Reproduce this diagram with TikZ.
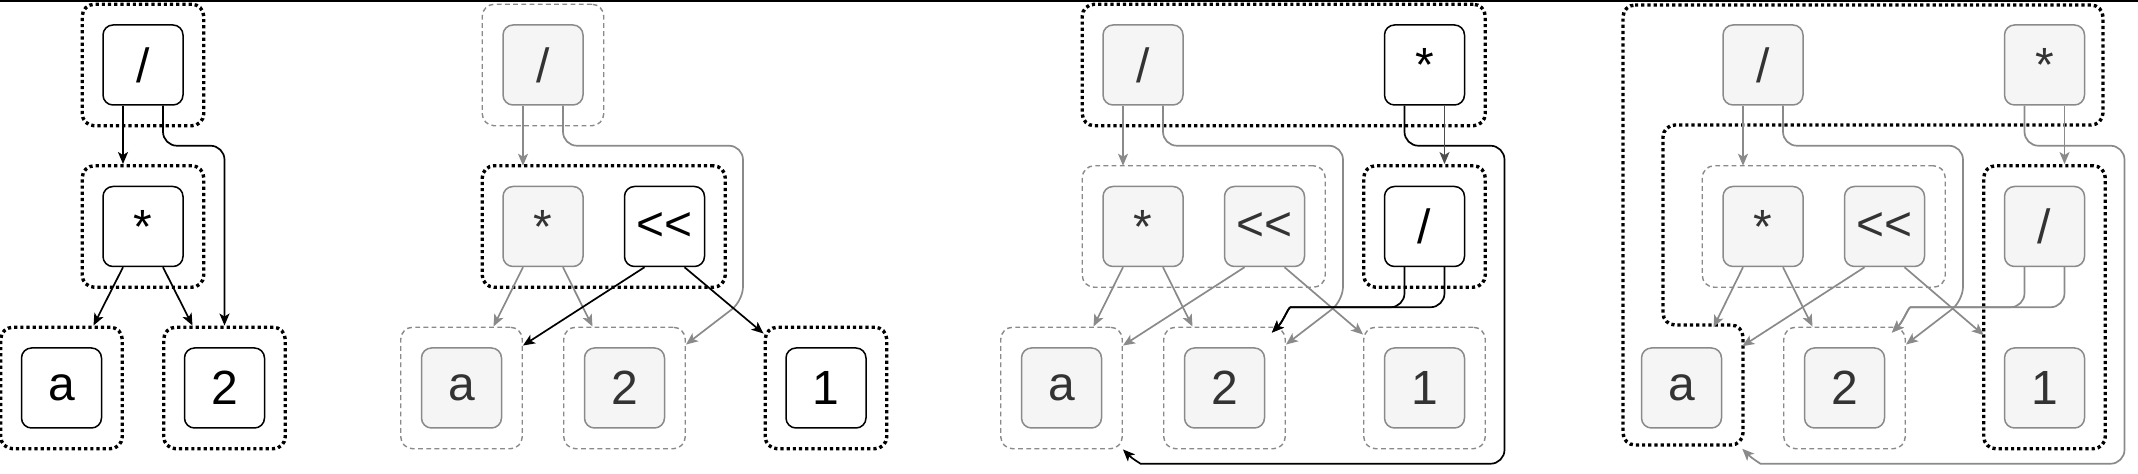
\documentclass[tikz,border=0pt]{standalone}
\usepackage{fontspec}
\setmainfont{Liberation Sans}
\usetikzlibrary{positioning,fit,calc,arrows.meta}
\definecolor{oldline}{HTML}{8A8A8A}
\definecolor{oldfill}{HTML}{F5F5F5}
\definecolor{oldtext}{HTML}{333333}
\definecolor{darkline}{HTML}{4D4D4D}
\newcommand{\shl}{<\kern0pt<}

\begin{document}
\begin{tikzpicture}[x=0.5pt, y=-0.5pt,
                    opbox/.style={draw, rounded corners=5pt, minimum width=40pt, minimum height=40pt, inner sep=0pt, line width=0.75pt, font=\fontsize{24}{29}\selectfont},
                    curbox/.style={opbox, fill=white, text=black},
                    oldbox/.style={opbox, draw=oldline, fill=oldfill, text=oldtext},
                    curgrp/.style={draw, line width=1.7pt, dash pattern=on 1.6pt off 1.5pt, rounded corners=6pt, inner sep=10pt},
                    oldgrp/.style={draw=oldline, line width=0.7pt, dash pattern=on 2.4pt off 1.7pt, rounded corners=6pt, inner sep=10pt},
                    curedge/.style={draw, line width=0.85pt, rounded corners=7pt, -{Stealth[length=6pt, width=5pt, inset=1.5pt]}},
                    oldedge/.style={curedge, draw=oldline},
                    darkedge/.style={curedge, draw=darkline},
                ]
                \useasboundingbox (0,0) rectangle (2138,474);
                \fill (0,0) rectangle (2138,2.5);

                %Nodes: step 1
                \node[curbox] (d1) at (143,65)                    {/};
                \node[curbox] (m1) [below=40pt of d1]             {*};
                \node[curbox] (a1) [below left=40pt and 0pt of m1]  {a};
                \node[curbox] (t1) [below right=40pt and 0pt of m1] {2};

                %Nodes: step 2
                \node[oldbox] (d2) at (543,65)                    {/};
                \node[oldbox] (m2) [below=40pt of d2]             {*};
                \node[curbox] (s2) [right=20pt of m2]             {\shl};
                \node[oldbox] (a2) [below left=40pt and 0pt of m2]  {a};
                \node[oldbox] (t2) [below right=40pt and 0pt of m2] {2};
                \node[curbox] (o2) [right=60pt of t2]             {1};

                %Nodes: step 3
                \node[oldbox] (d3) at (1143,65)                   {/};
                \node[curbox] (q3) [right=100pt of d3]            {*};
                \node[oldbox] (m3) [below=40pt of d3]             {*};
                \node[oldbox] (s3) [right=20pt of m3]             {\shl};
                \node[curbox] (r3) [below=40pt of q3]             {/};
                \node[oldbox] (a3) [below left=40pt and 0pt of m3]  {a};
                \node[oldbox] (t3) [below right=40pt and 0pt of m3] {2};
                \node[oldbox] (o3) [below=40pt of r3]             {1};

                %Nodes: step 4
                \node[oldbox] (d4) at (1763,65)                   {/};
                \node[oldbox] (q4) [right=100pt of d4]            {*};
                \node[oldbox] (m4) [below=40pt of d4]             {*};
                \node[oldbox] (s4) [right=20pt of m4]             {\shl};
                \node[oldbox] (r4) [below=40pt of q4]             {/};
                \node[oldbox] (a4) [below left=40pt and 0pt of m4]  {a};
                \node[oldbox] (t4) [below right=40pt and 0pt of m4] {2};
                \node[oldbox] (o4) [below=40pt of r4]             {1};

                %Groups
                \node[curgrp, fit=(d1)] (gd1) {};
                \node[curgrp, fit=(m1)] (gm1) {};
                \node[curgrp, fit=(a1)] (ga1) {};
                \node[curgrp, fit=(t1)] (gt1) {};

                \node[oldgrp, fit=(d2)] (gd2) {};
                \node[curgrp, fit=(m2)(s2)] (gm2) {};
                \node[oldgrp, fit=(a2)] (ga2) {};
                \node[oldgrp, fit=(t2)] (gt2) {};
                \node[curgrp, fit=(o2)] (go2) {};

                \node[curgrp, fit=(d3)(q3)] (gd3) {};
                \node[oldgrp, fit=(m3)(s3)] (gm3) {};
                \node[curgrp, fit=(r3)] (gr3) {};
                \node[oldgrp, fit=(a3)] (ga3) {};
                \node[oldgrp, fit=(t3)] (gt3) {};
                \node[oldgrp, fit=(o3)] (go3) {};

                % outer group of step 4 (around /, * and a)
                \draw[curgrp] (1623,5) -- (2103,5) -- (2103,125) -- (1663,125) -- (1663,325)
                              -- (1743,325) -- (1743,445) -- (1623,445) -- cycle;
                \node[oldgrp, fit=(m4)(s4)] (gm4) {};
                \node[oldgrp, fit=(t4)] (gt4) {};
                \node[curgrp, fit=(r4)(o4)] (gr4) {};

                %Edges: step 1
                \draw[curedge] ([xshift=-10pt]d1.south) -- ([xshift=-10pt]gm1.north);
                \draw[curedge] ([xshift=10pt]d1.south) -- ++(0,40) -| (gt1.north);
                \draw[curedge] ([xshift=-10pt]m1.south) -- ([xshift=16pt]ga1.north);
                \draw[curedge] ([xshift=10pt]m1.south) -- ([xshift=-16pt]gt1.north);

                %Edges: step 2
                \draw[oldedge] ([xshift=-10pt]d2.south) -- ([xshift=-10pt,yshift=10pt]m2.north);
                \draw[oldedge] ([xshift=10pt]d2.south) -- ++(0,40) -- ++(180,0) -- ++(0,155) -- ([yshift=-9pt]gt2.north east);
                \draw[oldedge] ([xshift=-10pt]m2.south) -- ([xshift=16pt]ga2.north);
                \draw[oldedge] ([xshift=10pt]m2.south) -- ([xshift=-16pt]gt2.north);
                \draw[curedge] ([xshift=-10pt]s2.south) -- ([yshift=-9.5pt]ga2.north east);
                \draw[curedge] ([xshift=10pt]s2.south) -- ([yshift=-4pt]go2.north west);

                %Edges: step 3
                \draw[oldedge] ([xshift=-10pt]d3.south) -- ([xshift=-10pt,yshift=10pt]m3.north);
                \draw[oldedge] ([xshift=10pt]d3.south) -- ++(0,40) -- ++(180,0) -- ++(0,155) -- ([yshift=-9pt]gt3.north east);
                \draw[oldedge] ([xshift=-10pt]m3.south) -- ([xshift=16pt]ga3.north);
                \draw[oldedge] ([xshift=10pt]m3.south) -- ([xshift=-16pt]gt3.north);
                \draw[oldedge] ([xshift=-10pt]s3.south) -- ([yshift=-9.5pt]ga3.north east);
                \draw[oldedge] ([xshift=10pt]s3.south) -- ([yshift=-4pt]go3.north west);
                \draw[curedge] ([xshift=-10pt]q3.south) -- ++(0,40) -- ++(100,0) -- ++(0,318) -- ++(-350,0) to[out=180, in=-45] (ga3.south east);
                \draw[darkedge] ([xshift=10pt]q3.south) -- ([xshift=10pt]gr3.north);
                \draw[curedge] ([xshift=-10pt]r3.south) -- ++(0,40) -- ++(-100,0) to[out=180, in=45] ([xshift=-7pt,yshift=-3pt]gt3.north east);
                \draw[curedge] ([xshift=10pt]r3.south) -- ++(0,40) -- ++(-140,0) to[out=180, in=45] ([xshift=-7pt,yshift=-3pt]gt3.north east);

                %Edges: step 4
                \draw[oldedge] ([xshift=-10pt]d4.south) -- ([xshift=-10pt,yshift=10pt]m4.north);
                \draw[oldedge] ([xshift=10pt]d4.south) -- ++(0,40) -- ++(180,0) -- ++(0,155) -- ([yshift=-9pt]gt4.north east);
                \draw[oldedge] ([xshift=-10pt]m4.south) -- ([xshift=16pt,yshift=10pt]a4.north);
                \draw[oldedge] ([xshift=10pt]m4.south) -- ([xshift=-16pt]gt4.north);
                \draw[oldedge] ([xshift=-10pt]s4.south) -- ([xshift=10pt,yshift=0.5pt]a4.north east);
                \draw[oldedge] ([xshift=10pt]s4.south) -- ([xshift=-10pt,yshift=6pt]o4.north west);
                \draw[oldedge] ([xshift=-10pt]q4.south) -- ++(0,40) -- ++(100,0) -- ++(0,318) -- ++(-350,0) to[out=180, in=-45] ([xshift=10pt,yshift=-10pt]a4.south east);
                \draw[oldedge] ([xshift=10pt]q4.south) -- ([xshift=10pt]gr4.north);
                \draw[oldedge] ([xshift=-10pt]r4.south) -- ++(0,40) -- ++(-100,0) to[out=180, in=45] ([xshift=-7pt,yshift=-3pt]gt4.north east);
                \draw[oldedge] ([xshift=10pt]r4.south) -- ++(0,40) -- ++(-140,0) to[out=180, in=45] ([xshift=-7pt,yshift=-3pt]gt4.north east);
            \end{tikzpicture}
\end{document}
